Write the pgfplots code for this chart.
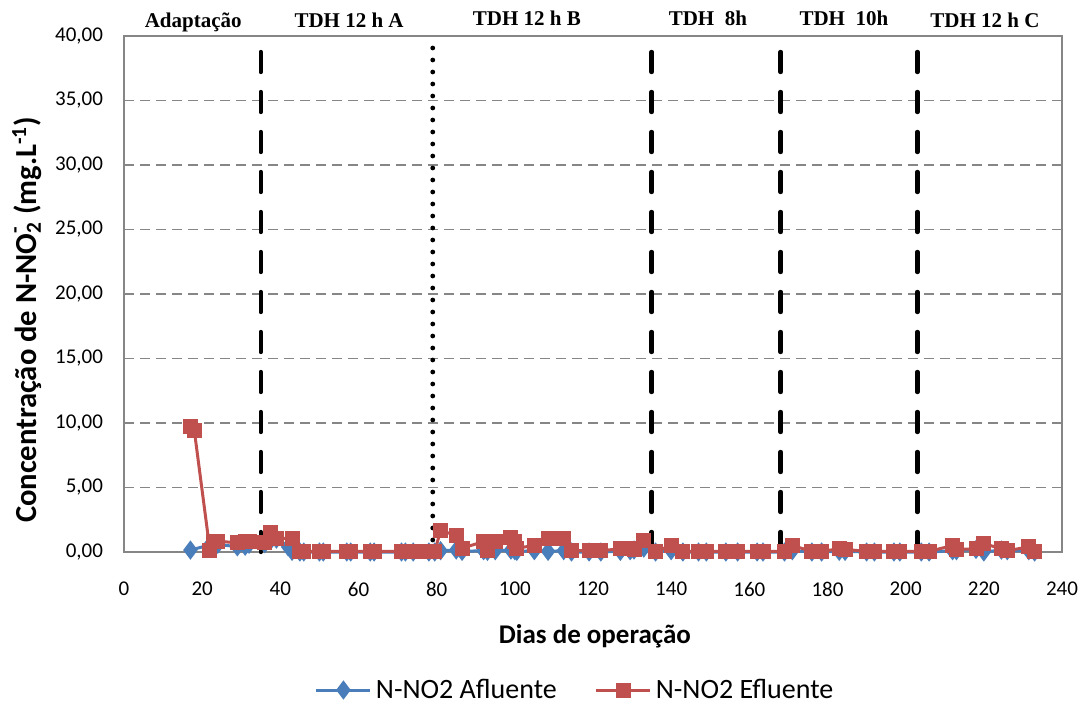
\documentclass[border=0pt]{standalone}
\usepackage{pgfplots}
\pgfplotsset{compat=1.18}
\usepackage{fontspec}
\setmainfont{Carlito}
\newfontfamily\tnr{Liberation Serif}
\definecolor{afl}{RGB}{74,126,187}
\definecolor{efl}{RGB}{192,80,77}
\definecolor{axgray}{RGB}{134,134,134}
\begin{document}
\begin{tikzpicture}
\useasboundingbox (0,0) rectangle (540.5bp,352bp);
\begin{axis}[
  at={(62bp,76bp)}, anchor=south west,
  scale only axis, width=469bp, height=258bp,
  xmin=0, xmax=240, ymin=0, ymax=40,
  xtick={0,20,...,240}, ytick={0,5,...,40},
  major tick length=0pt,
  axis line style={axgray, line width=0.8bp},
  ymajorgrids, grid style={axgray, line width=0.8bp, dash pattern=on 5bp off 3bp},
  clip=false,
  tick label style={font=\fontsize{10.5bp}{12bp}\selectfont},
  xticklabel style={yshift=-11.5bp},
  yticklabel style={xshift=-7bp, /pgf/number format/.cd, fixed, fixed zerofill, precision=2, use comma},
  /pgf/number format/assume math mode=true,
  xlabel={\bfseries Dias de operação},
  xlabel style={at={(axis description cs:0.502,0)}, anchor=center, yshift=-42bp, font=\fontsize{13.5bp}{15bp}\selectfont},
  ylabel={\bfseries Concentração de N-NO\rlap{\raisebox{0.15em}{\textsuperscript{-}}}\textsubscript{2} (mg.L\textsuperscript{-1})},
  ylabel style={at={(axis description cs:-0.1034,0.45)}, anchor=center, font=\fontsize{15.3bp}{17bp}\selectfont},
  legend columns=2,
  legend style={at={(axis description cs:0.482,0)}, anchor=center, yshift=-69bp, draw=none, fill=none,
    font=\fontsize{14bp}{16bp}\selectfont,
    /tikz/every even column/.append style={column sep=17bp}},
  legend image code/.code={\draw[mark repeat=2,mark phase=2] plot coordinates {(0bp,0bp)(13.5bp,0bp)(27bp,0bp)};},
]
% period separators
\addplot[black, line width=2.2bp, line cap=round, dash pattern=on 10bp off 10bp, forget plot] coordinates {(35,0) (35,39.2)};
\addplot[black, line width=2.4bp, line cap=round, dash pattern=on 0bp off 6bp, forget plot] coordinates {(79,0) (79,39.2)};
\addplot[black, line width=2.2bp, line cap=round, dash pattern=on 10bp off 10bp, forget plot] coordinates {(135,0) (135,39.2)};
\addplot[black, line width=2.2bp, line cap=round, dash pattern=on 10bp off 10bp, forget plot] coordinates {(168,0) (168,39.2)};
\addplot[black, line width=2.2bp, line cap=round, dash pattern=on 10bp off 10bp, forget plot] coordinates {(203,0) (203,39.2)};
% Afluente
\addplot[afl, line width=1.5bp, mark=diamond*, mark size=3.6bp, mark options={solid, fill=afl}] coordinates {
(17,0.15) (22,0.55) (23,0.6) (24,0.6) (29,0.4) (31,0.45) (32,0.6) (36,0.65) (37.5,0.9) (39,1.0) (42,0.4) (43,0.05)
(45,0) (46,0) (50,0) (51,0) (57,0) (58,0) (63,0) (64,0) (71,0) (72,0) (74,0) (78,0) (79.5,0)
(81,0.1) (85,0.15) (86.5,0.05) (92,0.1) (93,0.05) (95,0.1) (99,0.15) (100,0.1) (100.5,0.05) (105,0.1)
(108.5,0.05) (112.5,0.1) (114.5,0) (119,0) (122,0) (127,0.05) (129.5,0.1) (130.5,0.15) (133,0.3) (136,0)
(140,0.1) (143,0) (147,0) (149,0) (154,0) (157,0) (162,0) (163.5,0) (169,0) (171,0.1) (176,0) (178.5,0)
(183,0.05) (184.5,0.05) (190,0) (192,0) (197,0) (198.5,0) (204,0) (206,0) (212,0.1) (213,0.1) (218,0.2)
(220,0) (224.5,0.15) (226,0.1) (231.5,0.1) (233,0)
};
\addlegendentry{N-NO2 Afluente}
% Efluente
\addplot[efl, line width=1.5bp, mark=square*, mark size=3bp, mark options={solid, fill=efl}] coordinates {
(17,9.7) (18,9.4) (22,0.1) (23,0.85) (24,0.85) (29,0.7) (31,0.85) (32,0.85) (36,0.7) (37.5,1.55) (39,1.05) (43,1.05)
(45,0.05) (46,0.05) (50,0.05) (51,0.05) (57,0.05) (58,0.05) (63,0.05) (64,0.05) (71,0.05) (72,0.05) (74,0.05) (78,0.05) (79.5,0.05)
(81,1.65) (85,1.3) (86.5,0.3) (92,0.8) (93,0.1) (95,0.8) (99,1.15) (100,0.8) (100.5,0.3) (105,0.5)
(108.5,1.05) (112.5,1.05) (114.5,0.1) (119,0.1) (122,0.1) (127,0.25) (129.5,0.25) (130.5,0.2) (133,0.9) (136,0.05)
(140,0.5) (143,0.05) (147,0.05) (149,0.05) (154,0.05) (157,0.05) (162,0.05) (163.5,0.05) (169,0.05) (171,0.5) (176,0.05) (178.5,0.05)
(183,0.25) (184.5,0.2) (190,0.05) (192,0.05) (197,0.05) (198.5,0.05) (204,0.05) (206,0.05) (212,0.5) (213,0.2) (218,0.25)
(220,0.65) (224.5,0.25) (226,0.1) (231.5,0.4) (233,0.05)
};
\addlegendentry{N-NO2 Efluente}
% period labels
\begin{scope}[every node/.style={font=\tnr\bfseries\fontsize{10.5bp}{12bp}\selectfont, anchor=base}]
\node at (axis cs:17.7,40.65) {Adaptação};
\node at (axis cs:57.6,40.65) {TDH 12 h A};
\node at (axis cs:103.1,40.85) {TDH 12 h B};
\node at (axis cs:149.4,40.85) {TDH\ \ 8h};
\node at (axis cs:184.2,40.85) {TDH\ \ 10h};
\node at (axis cs:220.3,40.65) {TDH 12 h C};
\end{scope}
\end{axis}
\end{tikzpicture}
\end{document}
